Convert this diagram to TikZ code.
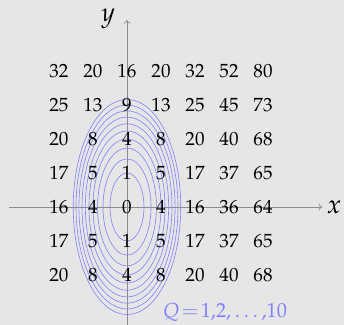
\documentclass[tikz,border=0pt]{standalone}
\usepackage[T1]{fontenc}
\usepackage{mathpazo}
\usetikzlibrary{arrows.meta}
\definecolor{bgc}{HTML}{E6E6E6}
\definecolor{axc}{HTML}{8C8C8C}
\definecolor{elc}{HTML}{8080FF}
\tikzset{
  axis/.style={draw=axc, line width=0.6pt, -{To[length=3pt,width=6pt]}},
  contour/.style={draw=elc, line width=0.5pt},
  val/.style={inner sep=0pt, font=\fontsize{16}{19}\selectfont, text=black},
  axlabel/.style={inner sep=0pt, font=\fontsize{22}{26}\selectfont},
  qlabel/.style={inner sep=0pt, text=elc, font=\fontsize{17}{20}\selectfont}
}
\begin{document}
\begin{tikzpicture}
\fill[bgc] (-3.735,-3.47) rectangle (6.382,6.088);
\useasboundingbox (-3.735,-3.47) rectangle (6.382,6.088);
\coordinate (xs) at (-3.47,0);
\coordinate (xe) at (5.74,0);
\coordinate (ys) at (0,-3.47);
\coordinate (ye) at (0,5.5);
\draw[axis] (xs) -- (xe);
\draw[axis] (ys) -- (ye);
\node[axlabel] (xl) at (6.09,0) {$x$};
\node[axlabel] (yl) at (-0.55,5.55) {$y$};
\foreach \q in {1,...,10} {
  \draw[contour] (0,0) ellipse [x radius={sqrt(\q)/2}, y radius={sqrt(\q)}];
}
\foreach \y in {-2,...,4} {
  \foreach \x in {-2,...,4} {
    \pgfmathtruncatemacro{\v}{4*\x*\x+\y*\y}
    \node[val] (n\x\y) at (\x,\y) {\v};
  }
}
\node[qlabel] (ql) at (2.88,-3.1) {$Q\!=\!1,\!2,\ldots,\!10$};
\end{tikzpicture}
\end{document}
